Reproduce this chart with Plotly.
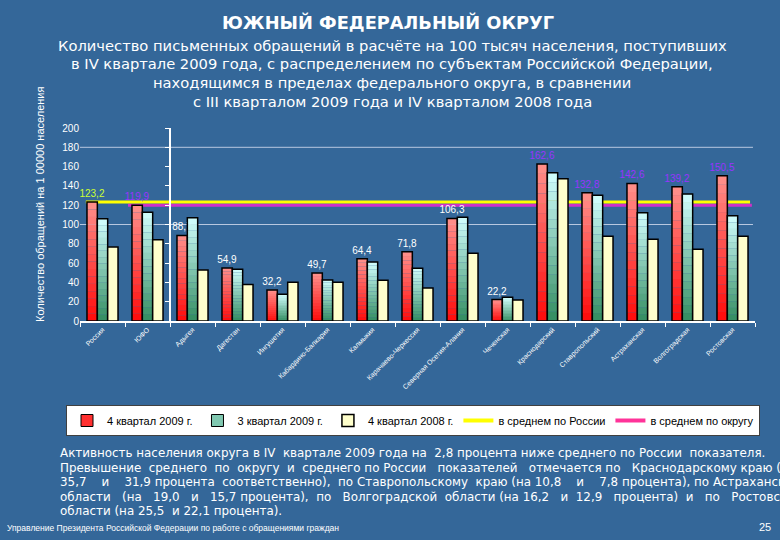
import plotly.graph_objects as go

# ---------------- data ----------------
categories = ["Россия", "ЮФО", "Адыгея", "Дагестан", "Ингушетия",
              "Кабардино-Балкария", "Калмыкия", "Карачаево-Черкессия",
              "Северная Осетия-Алания", "Чеченская", "Краснодарский",
              "Ставропольский", "Астраханская", "Волгоградская", "Ростовская"]
q4_2009 = [123.2, 119.9, 88.7, 54.9, 32.2, 49.7, 64.4, 71.8, 106.3, 22.2,
           162.6, 132.8, 142.6, 139.2, 150.5]
q3_2009 = [105.9, 112.8, 106.9, 53.6, 27.7, 42.5, 61.2, 54.7, 107.6, 24.6,
           153.5, 130.4, 112.1, 131.5, 109.0]
q4_2008 = [76.8, 84.1, 52.9, 37.7, 40.1, 40.1, 42.2, 34.2, 70.2, 21.7,
           147.3, 87.9, 84.8, 74.4, 87.9]
russia_avg = 123.2
district_avg = 119.9
y_ticks = [0, 20, 40, 60, 80, 100, 120, 140, 160, 180, 200]

series_names = ["4 квартал 2009 г.", "3 квартал 2009 г.", "4 квартал 2008 г.",
                "в среднем по России", "в среднем по округу"]

title = "ЮЖНЫЙ ФЕДЕРАЛЬНЫЙ ОКРУГ"
subtitle_lines = [
    "Количество письменных обращений в расчёте на 100 тысяч населения, поступивших",
    "в IV квартале 2009 года, с распределением по субъектам Российской Федерации,",
    "находящимся в пределах федерального округа, в сравнении",
    "с III кварталом 2009 года и IV кварталом 2008 года",
]
# justified paragraph, spacing widened as in the original slide
body_lines = [
    "Активность населения округа в IV  квартале 2009 года на  2,8 процента ниже среднего по России  показателя.",
    "Превышение  среднего  по  округу  и  среднего по России   показателей   отмечается по   Краснодарскому краю (на",
    "35,7    и    31,9 процента  соответственно),  по Ставропольскому  краю (на 10,8    и    7,8 процента), по Астраханской",
    "области   (на   19,0   и   15,7 процента),  по   Волгоградской  области (на 16,2   и  12,9   процента)  и   по   Ростовской",
    "области (на 25,5  и 22,1 процента).",
]
footer = "Управление Президента Российской Федерации по работе с обращениями граждан"
page_no = "25"
y_title = "Количество обращений на 1 00000 населения"

# ---------------- styling helpers ----------------
BG = "#346799"
TOP, BOTTOM, LEFT, RIGHT = 128, 321, 80, 755


def py2paper(py):
    return (BOTTOM - py) / (BOTTOM - TOP)


def px2paper(px):
    return (px - LEFT) / (RIGHT - LEFT)


def lerp(c1, c2, t):
    return "rgb(%d,%d,%d)" % tuple(round(a + (b - a) * t) for a, b in zip(c1, c2))


label_colors = ["#ccff33", "#9933ff"] + ["white"] * 8 + ["#9933ff"] * 5
labels = [f"{v:.1f}".replace(".", ",") for v in q4_2009]

fig = go.Figure()
N = 16
grads = [
    (q4_2009, "a", (255, 10, 10), (255, 145, 140)),
    (q3_2009, "b", (50, 140, 95), (210, 255, 255)),
]
for vals, grp, cbot, ctop in grads:
    for i in range(N):
        fig.add_trace(go.Bar(
            x=categories, y=[v / N for v in vals], base=[v * i / N for v in vals],
            offsetgroup=grp, marker=dict(color=lerp(cbot, ctop, (i + 0.5) / N), line=dict(width=0)),
            showlegend=False, hoverinfo="skip"))
    fig.add_trace(go.Bar(
        x=categories, y=vals, offsetgroup=grp,
        marker=dict(color="rgba(0,0,0,0)", line=dict(color="black", width=1.5)),
        showlegend=False, hoverinfo="skip",
        text=labels if grp == "a" else None,
        textposition="outside", textangle=0, constraintext="none", cliponaxis=False,
        textfont=dict(color=label_colors, size=10, family="Liberation Sans")))

fig.add_trace(go.Bar(x=[categories[0]], y=[None], offsetgroup="a", name=series_names[0],
                     marker=dict(color="#ff3030", line=dict(color="black", width=1)), legendrank=1))
fig.add_trace(go.Bar(x=[categories[0]], y=[None], offsetgroup="b", name=series_names[1],
                     marker=dict(color="#80c8b0", line=dict(color="black", width=1)), legendrank=2))
fig.add_trace(go.Bar(x=categories, y=q4_2008, offsetgroup="c", name=series_names[2],
                     marker=dict(color="#ffffcc", line=dict(color="black", width=1.5)),
                     hoverinfo="skip", legendrank=3))
fig.add_trace(go.Scatter(x=[None], y=[None], mode="lines", name=series_names[3],
                         line=dict(color="#ffff00", width=4), legendrank=4))
fig.add_trace(go.Scatter(x=[None], y=[None], mode="lines", name=series_names[4],
                         line=dict(color="#ff3399", width=4), legendrank=5))
# invisible trace to materialise the inner vertical axis
fig.add_trace(go.Scatter(x=[None], y=[None], yaxis="y2", showlegend=False, hoverinfo="skip"))

shapes = []
for g in (100, 180):
    shapes.append(dict(type="line", xref="paper", yref="y", x0=0, x1=0.997, y0=g, y1=g,
                       line=dict(color="#b8c8e0", width=1), layer="below"))
shapes.append(dict(type="line", xref="x", yref="y", x0=0.567, x1=14.43,
                   y0=district_avg, y1=district_avg,
                   line=dict(color="#d030c8", width=3), layer="below"))
shapes.append(dict(type="line", xref="x", yref="y", x0=-0.37, x1=14.39,
                   y0=russia_avg, y1=russia_avg,
                   line=dict(color="#ffff00", width=3), layer="below"))


def note(text, px, py, size, family="DejaVu Sans", xanchor="center", angle=0):
    return dict(text=text, x=px2paper(px), xref="paper", y=py2paper(py), yref="paper",
                showarrow=False, xanchor=xanchor, yanchor="middle", textangle=angle,
                font=dict(family=family, size=size, color="white"))


annotations = [note("<b>%s</b>" % title, 388, 22, 17.8)]
for k, line in enumerate(subtitle_lines):
    annotations.append(note(line, 392, 45 + 18.7 * k, 14.7))
for k, line in enumerate(body_lines):
    annotations.append(note(line.replace(" ", "\u00a0"), 58, 453 + 14.5 * k, 11.9, xanchor="left"))
annotations.append(note(y_title, 40, 204, 11, family="Liberation Sans", angle=-90))
annotations.append(note(footer, 5, 528, 8.5, family="Liberation Sans", xanchor="left"))
annotations.append(note(page_no, 773, 527, 11, family="Liberation Sans", xanchor="right"))

fig.update_layout(
    width=780, height=540,
    margin=dict(l=LEFT, r=780 - RIGHT, t=TOP, b=540 - BOTTOM, pad=0, autoexpand=False),
    paper_bgcolor=BG, plot_bgcolor=BG,
    barmode="group", bargap=0.31, bargroupgap=0,
    showlegend=True,
    legend=dict(orientation="h", x=px2paper(66), y=py2paper(405), xanchor="left", yanchor="top",
                bgcolor="white", bordercolor="#404040", borderwidth=1,
                font=dict(family="Liberation Sans", size=11, color="black"),
                traceorder="normal"),
    xaxis=dict(type="category", showline=True, linecolor="white", linewidth=2,
               ticks="outside", tickson="boundaries", ticklen=4, tickcolor="white",
               tickangle=-45, tickfont=dict(family="Liberation Sans", size=7, color="white"),
               showgrid=False, zeroline=False),
    yaxis=dict(range=[0, 200], tickvals=y_ticks, showgrid=False, zeroline=False,
               showline=False, ticks="",
               tickfont=dict(family="Liberation Sans", size=10, color="white")),
    yaxis2=dict(overlaying="y", anchor="free", position=px2paper(170), side="left",
                range=[0, 200], tickvals=y_ticks, showticklabels=False, showgrid=False,
                zeroline=False, showline=True, linecolor="white", linewidth=2,
                ticks="outside", ticklen=4, tickcolor="white"),
    shapes=shapes, annotations=annotations,
)

fig.write_html("out.html", config={"displayModeBar": False},
               post_script="document.body.style.margin='0';document.body.style.background='%s';" % BG)
